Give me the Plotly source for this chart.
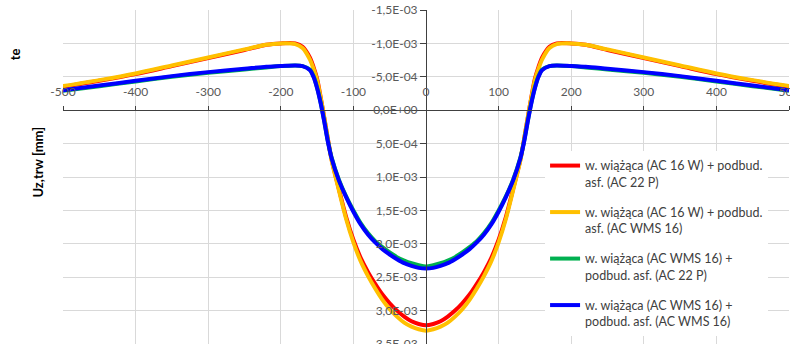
import plotly.graph_objects as go

# x positions along the section
x_vals = [-500, -450, -400, -350, -300, -250, -220, -200, -180, -170, -160, -155, -150, -145, -140, -135, -130,
          -120, -110, -100, -90, -80, -70, -60, -50, -40, -30, -20, -10, 0,
          10, 20, 30, 40, 50, 60, 70, 80, 90, 100, 110, 120,
          130, 135, 140, 145, 150, 155, 160, 170, 180, 200, 220, 250, 300, 350, 400, 450, 500]

# displacement values in units of 1E-03 mm
red_e3 = [-0.35, -0.44, -0.54, -0.66, -0.78, -0.90, -0.98, -1.00, -1.00, -0.95, -0.79, -0.65, -0.47, -0.19, 0.12, 0.44, 0.74,
          1.18, 1.60, 1.94, 2.21, 2.42, 2.60, 2.76, 2.89, 3.00, 3.09, 3.16, 3.20, 3.22,
          3.20, 3.16, 3.09, 3.00, 2.89, 2.76, 2.60, 2.42, 2.21, 1.94, 1.60, 1.18,
          0.74, 0.44, 0.12, -0.19, -0.47, -0.65, -0.79, -0.95, -1.00, -1.00, -0.98, -0.90, -0.78, -0.66, -0.54, -0.44, -0.35]

orange_e3 = [-0.36, -0.45, -0.55, -0.67, -0.79, -0.91, -0.98, -1.00, -0.99, -0.93, -0.76, -0.62, -0.45, -0.18, 0.12, 0.45, 0.75,
             1.20, 1.63, 1.98, 2.26, 2.48, 2.67, 2.84, 2.98, 3.09, 3.18, 3.24, 3.28, 3.30,
             3.28, 3.24, 3.18, 3.09, 2.98, 2.84, 2.67, 2.48, 2.26, 1.98, 1.63, 1.20,
             0.75, 0.45, 0.12, -0.18, -0.45, -0.62, -0.76, -0.93, -0.99, -1.00, -0.98, -0.91, -0.79, -0.67, -0.55, -0.45, -0.36]

green_e3 = [-0.29, -0.36, -0.43, -0.50, -0.56, -0.61, -0.64, -0.66, -0.67, -0.66, -0.61, -0.51, -0.34, -0.11, 0.17, 0.47, 0.71,
            1.04, 1.29, 1.50, 1.69, 1.84, 1.96, 2.05, 2.13, 2.20, 2.25, 2.29, 2.32, 2.34,
            2.32, 2.29, 2.25, 2.20, 2.13, 2.05, 1.96, 1.84, 1.69, 1.50, 1.29, 1.04,
            0.71, 0.47, 0.17, -0.11, -0.34, -0.51, -0.61, -0.66, -0.67, -0.66, -0.64, -0.61, -0.56, -0.50, -0.43, -0.36, -0.29]

blue_e3 = [-0.30, -0.37, -0.44, -0.51, -0.57, -0.62, -0.65, -0.66, -0.67, -0.66, -0.60, -0.50, -0.33, -0.10, 0.18, 0.48, 0.72,
           1.05, 1.30, 1.52, 1.71, 1.86, 1.98, 2.08, 2.16, 2.23, 2.29, 2.33, 2.36, 2.37,
           2.36, 2.33, 2.29, 2.23, 2.16, 2.08, 1.98, 1.86, 1.71, 1.52, 1.30, 1.05,
           0.72, 0.48, 0.18, -0.10, -0.33, -0.50, -0.60, -0.66, -0.67, -0.66, -0.65, -0.62, -0.57, -0.51, -0.44, -0.37, -0.30]

series_names = [
    "w. wiążąca (AC 16 W) + podbud.<br>asf. (AC 22 P)",
    "w. wiążąca (AC 16 W) + podbud.<br>asf. (AC WMS 16)",
    "w. wiążąca (AC WMS 16) +<br>podbud. asf. (AC 22 P)",
    "w. wiążąca (AC WMS 16) +<br>podbud. asf. (AC WMS 16)",
]
series_colors = ["#FF0000", "#FFC000", "#00B050", "#0000FF"]

x_ticks = [-500, -400, -300, -200, -100, 0, 100, 200, 300, 400, 500]
y_ticks = [-1.5e-3, -1.0e-3, -5.0e-4, 0.0, 5.0e-4, 1.0e-3, 1.5e-3, 2.0e-3, 2.5e-3, 3.0e-3, 3.5e-3]
y_ticktext = ["-1,5E-03", "-1,0E-03", "-5,0E-04", "0,0E+00", "5,0E-04", "1,0E-03",
              "1,5E-03", "2,0E-03", "2,5E-03", "3,0E-03", "3,5E-03"]

y_title = "Uz,trw [mm]"

fig = go.Figure()
for i, vals in enumerate([red_e3, orange_e3, green_e3, blue_e3]):
    fig.add_trace(go.Scatter(
        x=x_vals, y=[v * 1e-3 for v in vals], mode="lines", name=series_names[i],
        line=dict(color=series_colors[i], width=4, shape="spline", smoothing=0.8),
        legendgroup=f"g{i}",
    ))

font_family = "Lato, 'Open Sans', sans-serif"
fig.update_layout(
    width=790, height=344,
    margin=dict(l=63, r=1, t=10, b=0),
    paper_bgcolor="white", plot_bgcolor="white",
    font=dict(family=font_family, size=12, color="#595959"),
    showlegend=True,
    legend=dict(
        x=0.664, y=0.578, xanchor="left", yanchor="top",
        bgcolor="white", font=dict(family=font_family, size=12.5, color="#404040"),
        tracegroupgap=11, valign="top", itemwidth=30,
    ),
    xaxis=dict(
        range=[-500, 500], tickvals=x_ticks, ticktext=[str(v) for v in x_ticks],
        anchor="free", position=0.7, side="top", automargin=False,
        showline=True, linecolor="#404040", linewidth=1,
        ticks="outside", ticklen=4, tickcolor="#404040",
        ticklabelstandoff=5, ticklabeloverflow="allow",
        showgrid=True, gridcolor="#D9D9D9", gridwidth=1, zeroline=False,
    ),
    yaxis=dict(
        range=[3.5e-3, -1.5e-3], tickvals=y_ticks, ticktext=y_ticktext,
        anchor="free", position=0.5, side="left", automargin=False,
        showline=True, linecolor="#404040", linewidth=1,
        ticks="outside", ticklen=6, tickcolor="#404040",
        ticklabeloverflow="allow",
        showgrid=True, gridcolor="#D9D9D9", gridwidth=1, zeroline=False,
    ),
    annotations=[
        dict(text="<b>" + y_title + "</b>", xref="paper", yref="paper",
             x=-0.035, y=0.545, textangle=-90, showarrow=False,
             font=dict(family=font_family, size=13, color="#000000"),
             xanchor="center", yanchor="middle"),
        dict(text="<b>te</b>", xref="paper", yref="paper",
             x=-0.065, y=0.867, textangle=-90, showarrow=False,
             font=dict(family=font_family, size=13, color="#000000"),
             xanchor="center", yanchor="middle"),
    ],
)

fig.write_html("out.html")
